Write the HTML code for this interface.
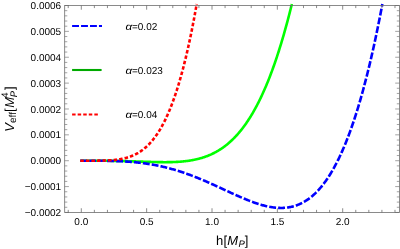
<!DOCTYPE html>
<html><head><meta charset="utf-8"><title>Veff plot</title>
<style>html,body{margin:0;padding:0;background:#fff;}svg{display:block;will-change:transform;}</style></head>
<body>
<svg width="400" height="249" viewBox="0 0 400 249">
<rect width="400" height="249" fill="#fff"/>
<path d="M80.30 160.71 L81.30 160.71 L81.86 160.71 L82.41 160.71 L82.97 160.71 L83.52 160.71 L84.08 160.71 L84.63 160.71 L85.19 160.71 L85.74 160.71 L86.30 160.71 L86.85 160.71 L87.41 160.71 L87.97 160.71 L88.52 160.71 L89.08 160.71 L89.63 160.71 L90.19 160.71 L90.74 160.71 L91.30 160.72 L91.85 160.72 L92.41 160.72 L92.96 160.72 L93.52 160.72 L94.08 160.72 L94.63 160.72 L95.19 160.72 L95.74 160.72 L96.30 160.72 L96.85 160.73 L97.41 160.73 L97.96 160.73 L98.52 160.73 L99.08 160.73 L99.63 160.74 L100.19 160.74 L100.74 160.74 L101.30 160.74 L101.85 160.75 L102.41 160.75 L102.96 160.75 L103.52 160.76 L104.07 160.76 L104.63 160.77 L105.19 160.77 L105.74 160.78 L106.30 160.78 L106.85 160.79 L107.41 160.79 L107.96 160.80 L108.52 160.80 L109.07 160.81 L109.63 160.81 L110.18 160.82 L110.74 160.83 L111.30 160.84 L111.85 160.84 L112.41 160.85 L112.96 160.86 L113.52 160.87 L114.07 160.88 L114.63 160.88 L115.18 160.89 L115.74 160.90 L116.29 160.91 L116.85 160.92 L117.41 160.93 L117.96 160.94 L118.52 160.95 L119.07 160.97 L119.63 160.98 L120.18 160.99 L120.74 161.00 L121.29 161.01 L121.85 161.03 L122.41 161.04 L122.96 161.05 L123.52 161.07 L124.07 161.08 L124.63 161.09 L125.18 161.11 L125.74 161.12 L126.29 161.14 L126.85 161.15 L127.40 161.17 L127.96 161.18 L128.52 161.20 L129.07 161.22 L129.63 161.23 L130.18 161.25 L130.74 161.26 L131.29 161.28 L131.85 161.30 L132.40 161.32 L132.96 161.33 L133.51 161.35 L134.07 161.37 L134.63 161.39 L135.18 161.41 L135.74 161.42 L136.29 161.44 L136.85 161.46 L137.40 161.48 L137.96 161.50 L138.51 161.52 L139.07 161.54 L139.62 161.55 L140.18 161.57 L140.74 161.59 L141.29 161.61 L141.85 161.63 L142.40 161.65 L142.96 161.67 L143.51 161.69 L144.07 161.71 L144.62 161.73 L145.18 161.74 L145.74 161.76 L146.29 161.78 L146.85 161.80 L147.40 161.82 L147.96 161.84 L148.51 161.85 L149.07 161.87 L149.62 161.89 L150.18 161.91 L150.73 161.92 L151.29 161.94 L151.85 161.96 L152.40 161.97 L152.96 161.99 L153.51 162.00 L154.07 162.02 L154.62 162.03 L155.18 162.04 L155.73 162.06 L156.29 162.07 L156.84 162.08 L157.40 162.09 L157.96 162.11 L158.51 162.12 L159.07 162.13 L159.62 162.13 L160.18 162.14 L160.73 162.15 L161.29 162.16 L161.84 162.16 L162.40 162.17 L162.95 162.17 L163.51 162.18 L164.07 162.18 L164.62 162.18 L165.18 162.18 L165.73 162.18 L166.29 162.18 L166.84 162.17 L167.40 162.17 L167.95 162.17 L168.51 162.16 L169.07 162.15 L169.62 162.14 L170.18 162.13 L170.73 162.12 L171.29 162.11 L171.84 162.09 L172.40 162.08 L172.95 162.06 L173.51 162.04 L174.06 162.02 L174.62 162.00 L175.18 161.98 L175.73 161.95 L176.29 161.92 L176.84 161.89 L177.40 161.86 L177.95 161.83 L178.51 161.79 L179.06 161.76 L179.62 161.72 L180.17 161.68 L180.73 161.63 L181.29 161.59 L181.84 161.54 L182.40 161.49 L182.95 161.44 L183.51 161.38 L184.06 161.33 L184.62 161.27 L185.17 161.21 L185.73 161.14 L186.28 161.07 L186.84 161.00 L187.40 160.93 L187.95 160.86 L188.51 160.78 L189.06 160.70 L189.62 160.61 L190.17 160.52 L190.73 160.43 L191.28 160.34 L191.84 160.24 L192.39 160.14 L192.95 160.04 L193.51 159.93 L194.06 159.82 L194.62 159.71 L195.17 159.59 L195.73 159.47 L196.28 159.34 L196.84 159.22 L197.39 159.08 L197.95 158.95 L198.51 158.81 L199.06 158.66 L199.62 158.51 L200.17 158.36 L200.73 158.20 L201.28 158.04 L201.84 157.88 L202.39 157.71 L202.95 157.53 L203.50 157.35 L204.06 157.17 L204.62 156.98 L205.17 156.79 L205.73 156.59 L206.28 156.39 L206.84 156.18 L207.39 155.96 L207.95 155.75 L208.50 155.52 L209.06 155.29 L209.61 155.06 L210.17 154.82 L210.73 154.57 L211.28 154.32 L211.84 154.06 L212.39 153.80 L212.95 153.53 L213.50 153.26 L214.06 152.98 L214.61 152.69 L215.17 152.40 L215.72 152.10 L216.28 151.79 L216.84 151.48 L217.39 151.16 L217.95 150.83 L218.50 150.50 L219.06 150.16 L219.61 149.82 L220.17 149.46 L220.72 149.10 L221.28 148.73 L221.84 148.36 L222.39 147.98 L222.95 147.59 L223.50 147.19 L224.06 146.79 L224.61 146.37 L225.17 145.95 L225.72 145.52 L226.28 145.09 L226.83 144.64 L227.39 144.19 L227.95 143.73 L228.50 143.26 L229.06 142.78 L229.61 142.29 L230.17 141.80 L230.72 141.30 L231.28 140.78 L231.83 140.26 L232.39 139.73 L232.94 139.19 L233.50 138.64 L234.06 138.08 L234.61 137.51 L235.17 136.93 L235.72 136.34 L236.28 135.74 L236.83 135.13 L237.39 134.51 L237.94 133.89 L238.50 133.25 L239.05 132.60 L239.61 131.94 L240.17 131.26 L240.72 130.58 L241.28 129.89 L241.83 129.19 L242.39 128.47 L242.94 127.74 L243.50 127.01 L244.05 126.26 L244.61 125.50 L245.17 124.73 L245.72 123.94 L246.28 123.14 L246.83 122.34 L247.39 121.52 L247.94 120.68 L248.50 119.84 L249.05 118.98 L249.61 118.11 L250.16 117.23 L250.72 116.33 L251.28 115.42 L251.83 114.50 L252.39 113.56 L252.94 112.61 L253.50 111.65 L254.05 110.67 L254.61 109.68 L255.16 108.68 L255.72 107.66 L256.27 106.62 L256.83 105.58 L257.39 104.51 L257.94 103.44 L258.50 102.35 L259.05 101.24 L259.61 100.12 L260.16 98.98 L260.72 97.83 L261.27 96.66 L261.83 95.48 L262.38 94.28 L262.94 93.06 L263.50 91.83 L264.05 90.59 L264.61 89.32 L265.16 88.04 L265.72 86.75 L266.27 85.43 L266.83 84.10 L267.38 82.75 L267.94 81.39 L268.50 80.01 L269.05 78.61 L269.61 77.19 L270.16 75.76 L270.72 74.30 L271.27 72.83 L271.83 71.34 L272.38 69.83 L272.94 68.31 L273.49 66.76 L274.05 65.20 L274.61 63.62 L275.16 62.01 L275.72 60.39 L276.27 58.75 L276.83 57.09 L277.38 55.41 L277.94 53.71 L278.49 51.99 L279.05 50.25 L279.60 48.48 L280.16 46.70 L280.72 44.90 L281.27 43.08 L281.83 41.23 L282.38 39.36 L282.94 37.47 L283.49 35.57 L284.05 33.63 L284.60 31.68 L285.16 29.70 L285.71 27.71 L286.27 25.69 L286.83 23.64 L287.38 21.58 L287.94 19.49 L288.49 17.37 L289.05 15.24 L289.60 13.08 L290.16 10.90 L290.71 8.69 L291.27 6.46 L291.83 4.20 L291.85 4.10" fill="none" stroke="#00ff00" stroke-width="2.60" stroke-linejoin="round"/>
<path d="M80.30 160.71 L81.30 160.71 L82.08 160.71 L82.87 160.71 L83.65 160.71 L84.44 160.71 L85.22 160.71 L86.01 160.71 L86.79 160.71 L87.57 160.71 L88.36 160.71 L89.14 160.71 L89.93 160.71 L90.71 160.72 L91.49 160.72 L92.28 160.72 L93.06 160.72 L93.85 160.72 L94.63 160.72 L95.42 160.73 L96.20 160.73 L96.98 160.73 L97.77 160.74 L98.55 160.74 L99.34 160.75 L100.12 160.75 L100.91 160.76 L101.69 160.76 L102.47 160.77 L103.26 160.78 L104.04 160.79 L104.83 160.80 L105.61 160.81 L106.39 160.82 L107.18 160.83 L107.96 160.85 L108.75 160.86 L109.53 160.88 L110.32 160.90 L111.10 160.91 L111.88 160.93 L112.67 160.95 L113.45 160.98 L114.24 161.00 L115.02 161.02 L115.80 161.05 L116.59 161.08 L117.37 161.11 L118.16 161.14 L118.94 161.17 L119.73 161.20 L120.51 161.24 L121.29 161.28 L122.08 161.32 L122.86 161.36 L123.65 161.40 L124.43 161.45 L125.22 161.49 L126.00 161.54 L126.78 161.59 L127.57 161.64 L128.35 161.70 L129.14 161.76 L129.92 161.82 L130.70 161.88 L131.49 161.94 L132.27 162.01 L133.06 162.08 L133.84 162.15 L134.63 162.22 L135.41 162.30 L136.19 162.38 L136.98 162.46 L137.76 162.54 L138.55 162.63 L139.33 162.71 L140.12 162.81 L140.90 162.90 L141.68 163.00 L142.47 163.10 L143.25 163.20 L144.04 163.30 L144.82 163.41 L145.60 163.52 L146.39 163.64 L147.17 163.75 L147.96 163.87 L148.74 163.99 L149.53 164.12 L150.31 164.25 L151.09 164.38 L151.88 164.51 L152.66 164.65 L153.45 164.79 L154.23 164.94 L155.01 165.08 L155.80 165.24 L156.58 165.39 L157.37 165.55 L158.15 165.71 L158.94 165.87 L159.72 166.03 L160.50 166.20 L161.29 166.38 L162.07 166.55 L162.86 166.73 L163.64 166.92 L164.43 167.10 L165.21 167.29 L165.99 167.48 L166.78 167.68 L167.56 167.88 L168.35 168.08 L169.13 168.29 L169.91 168.50 L170.70 168.71 L171.48 168.92 L172.27 169.14 L173.05 169.36 L173.84 169.59 L174.62 169.82 L175.40 170.05 L176.19 170.29 L176.97 170.52 L177.76 170.77 L178.54 171.01 L179.32 171.26 L180.11 171.51 L180.89 171.76 L181.68 172.02 L182.46 172.28 L183.25 172.55 L184.03 172.81 L184.81 173.08 L185.60 173.36 L186.38 173.63 L187.17 173.91 L187.95 174.19 L188.74 174.48 L189.52 174.77 L190.30 175.06 L191.09 175.35 L191.87 175.65 L192.66 175.95 L193.44 176.25 L194.22 176.55 L195.01 176.86 L195.79 177.17 L196.58 177.48 L197.36 177.80 L198.15 178.12 L198.93 178.43 L199.71 178.76 L200.50 179.08 L201.28 179.41 L202.07 179.74 L202.85 180.07 L203.64 180.40 L204.42 180.74 L205.20 181.07 L205.99 181.41 L206.77 181.75 L207.56 182.10 L208.34 182.44 L209.12 182.79 L209.91 183.14 L210.69 183.49 L211.48 183.84 L212.26 184.19 L213.05 184.54 L213.83 184.90 L214.61 185.25 L215.40 185.61 L216.18 185.97 L216.97 186.33 L217.75 186.69 L218.53 187.05 L219.32 187.41 L220.10 187.77 L220.89 188.14 L221.67 188.50 L222.46 188.86 L223.24 189.23 L224.02 189.59 L224.81 189.95 L225.59 190.32 L226.38 190.68 L227.16 191.05 L227.95 191.41 L228.73 191.77 L229.51 192.13 L230.30 192.49 L231.08 192.86 L231.87 193.21 L232.65 193.57 L233.43 193.93 L234.22 194.29 L235.00 194.64 L235.79 195.00 L236.57 195.35 L237.36 195.70 L238.14 196.05 L238.92 196.39 L239.71 196.74 L240.49 197.08 L241.28 197.42 L242.06 197.75 L242.85 198.09 L243.63 198.42 L244.41 198.75 L245.20 199.07 L245.98 199.40 L246.77 199.72 L247.55 200.03 L248.33 200.34 L249.12 200.65 L249.90 200.96 L250.69 201.26 L251.47 201.55 L252.26 201.84 L253.04 202.13 L253.82 202.41 L254.61 202.69 L255.39 202.96 L256.18 203.23 L256.96 203.49 L257.75 203.75 L258.53 204.00 L259.31 204.24 L260.10 204.48 L260.88 204.71 L261.67 204.94 L262.45 205.16 L263.23 205.37 L264.02 205.58 L264.80 205.78 L265.59 205.97 L266.37 206.15 L267.16 206.33 L267.94 206.49 L268.72 206.65 L269.51 206.80 L270.29 206.95 L271.08 207.08 L271.86 207.21 L272.64 207.32 L273.43 207.43 L274.21 207.53 L275.00 207.61 L275.78 207.69 L276.57 207.76 L277.35 207.82 L278.13 207.86 L278.92 207.90 L279.70 207.92 L280.49 207.94 L281.27 207.94 L282.06 207.93 L282.84 207.91 L283.62 207.87 L284.41 207.82 L285.19 207.77 L285.98 207.69 L286.76 207.61 L287.54 207.51 L288.33 207.40 L289.11 207.27 L289.90 207.13 L290.68 206.98 L291.47 206.81 L292.25 206.62 L293.03 206.42 L293.82 206.21 L294.60 205.98 L295.39 205.73 L296.17 205.47 L296.95 205.19 L297.74 204.89 L298.52 204.58 L299.31 204.25 L300.09 203.90 L300.88 203.54 L301.66 203.15 L302.44 202.75 L303.23 202.33 L304.01 201.89 L304.80 201.43 L305.58 200.95 L306.37 200.46 L307.15 199.94 L307.93 199.40 L308.72 198.84 L309.50 198.26 L310.29 197.66 L311.07 197.04 L311.85 196.39 L312.64 195.72 L313.42 195.03 L314.21 194.32 L314.99 193.58 L315.78 192.82 L316.56 192.04 L317.34 191.23 L318.13 190.40 L318.91 189.55 L319.70 188.66 L320.48 187.76 L321.27 186.82 L322.05 185.86 L322.83 184.88 L323.62 183.87 L324.40 182.83 L325.19 181.76 L325.97 180.67 L326.75 179.54 L327.54 178.39 L328.32 177.21 L329.11 176.00 L329.89 174.76 L330.68 173.50 L331.46 172.20 L332.24 170.87 L333.03 169.51 L333.81 168.11 L334.60 166.69 L335.38 165.23 L336.16 163.75 L336.95 162.22 L337.73 160.67 L338.52 159.08 L339.30 157.46 L340.09 155.80 L340.87 154.11 L341.65 152.38 L342.44 150.62 L343.22 148.82 L344.01 146.99 L344.79 145.12 L345.58 143.21 L346.36 141.26 L347.14 139.28 L347.93 137.26 L348.71 135.20 L349.50 133.10 L350.28 130.96 L351.06 128.78 L351.85 126.56 L352.63 124.29 L353.42 121.99 L354.20 119.65 L354.99 117.26 L355.77 114.83 L356.55 112.36 L357.34 109.84 L358.12 107.28 L358.91 104.68 L359.69 102.03 L360.48 99.34 L361.26 96.60 L362.04 93.81 L362.83 90.98 L363.61 88.10 L364.40 85.18 L365.18 82.20 L365.96 79.18 L366.75 76.11 L367.53 72.99 L368.32 69.81 L369.10 66.59 L369.89 63.32 L370.67 60.00 L371.45 56.62 L372.24 53.20 L373.02 49.72 L373.81 46.18 L374.59 42.60 L375.38 38.96 L376.16 35.26 L376.94 31.51 L377.73 27.71 L378.51 23.84 L379.30 19.93 L380.08 15.95 L380.86 11.92 L381.65 7.82 L382.35 4.10" fill="none" stroke="#0000ff" stroke-width="2.60" stroke-linejoin="round" stroke-dasharray="6.9 2.05"/>
<path d="M80.30 160.71 L81.30 160.71 L81.61 160.71 L81.92 160.71 L82.23 160.71 L82.54 160.71 L82.85 160.71 L83.16 160.71 L83.47 160.71 L83.78 160.71 L84.09 160.71 L84.40 160.71 L84.71 160.71 L85.02 160.71 L85.34 160.71 L85.65 160.71 L85.96 160.71 L86.27 160.71 L86.58 160.71 L86.89 160.71 L87.20 160.71 L87.51 160.71 L87.82 160.71 L88.13 160.71 L88.44 160.71 L88.75 160.71 L89.06 160.71 L89.37 160.71 L89.68 160.71 L89.99 160.71 L90.30 160.71 L90.61 160.71 L90.92 160.71 L91.23 160.71 L91.54 160.71 L91.85 160.71 L92.16 160.71 L92.47 160.71 L92.79 160.70 L93.10 160.70 L93.41 160.70 L93.72 160.70 L94.03 160.70 L94.34 160.70 L94.65 160.70 L94.96 160.70 L95.27 160.69 L95.58 160.69 L95.89 160.69 L96.20 160.69 L96.51 160.69 L96.82 160.68 L97.13 160.68 L97.44 160.68 L97.75 160.67 L98.06 160.67 L98.37 160.67 L98.68 160.66 L98.99 160.66 L99.30 160.66 L99.61 160.65 L99.92 160.65 L100.24 160.64 L100.55 160.64 L100.86 160.63 L101.17 160.63 L101.48 160.62 L101.79 160.61 L102.10 160.61 L102.41 160.60 L102.72 160.59 L103.03 160.58 L103.34 160.58 L103.65 160.57 L103.96 160.56 L104.27 160.55 L104.58 160.54 L104.89 160.53 L105.20 160.52 L105.51 160.51 L105.82 160.50 L106.13 160.49 L106.44 160.47 L106.75 160.46 L107.06 160.45 L107.37 160.43 L107.69 160.42 L108.00 160.40 L108.31 160.39 L108.62 160.37 L108.93 160.35 L109.24 160.34 L109.55 160.32 L109.86 160.30 L110.17 160.28 L110.48 160.26 L110.79 160.24 L111.10 160.21 L111.41 160.19 L111.72 160.17 L112.03 160.14 L112.34 160.12 L112.65 160.09 L112.96 160.07 L113.27 160.04 L113.58 160.01 L113.89 159.98 L114.20 159.95 L114.51 159.92 L114.82 159.89 L115.13 159.85 L115.45 159.82 L115.76 159.78 L116.07 159.75 L116.38 159.71 L116.69 159.67 L117.00 159.63 L117.31 159.59 L117.62 159.55 L117.93 159.51 L118.24 159.46 L118.55 159.42 L118.86 159.37 L119.17 159.32 L119.48 159.27 L119.79 159.22 L120.10 159.17 L120.41 159.12 L120.72 159.06 L121.03 159.01 L121.34 158.95 L121.65 158.89 L121.96 158.83 L122.27 158.77 L122.58 158.70 L122.90 158.64 L123.21 158.57 L123.52 158.50 L123.83 158.43 L124.14 158.36 L124.45 158.29 L124.76 158.21 L125.07 158.13 L125.38 158.05 L125.69 157.97 L126.00 157.89 L126.31 157.81 L126.62 157.72 L126.93 157.63 L127.24 157.54 L127.55 157.45 L127.86 157.35 L128.17 157.26 L128.48 157.16 L128.79 157.06 L129.10 156.96 L129.41 156.85 L129.72 156.74 L130.03 156.63 L130.35 156.52 L130.66 156.41 L130.97 156.29 L131.28 156.17 L131.59 156.05 L131.90 155.93 L132.21 155.80 L132.52 155.67 L132.83 155.54 L133.14 155.41 L133.45 155.27 L133.76 155.13 L134.07 154.99 L134.38 154.85 L134.69 154.70 L135.00 154.55 L135.31 154.40 L135.62 154.24 L135.93 154.08 L136.24 153.92 L136.55 153.76 L136.86 153.59 L137.17 153.42 L137.48 153.24 L137.80 153.07 L138.11 152.89 L138.42 152.70 L138.73 152.52 L139.04 152.33 L139.35 152.13 L139.66 151.94 L139.97 151.74 L140.28 151.53 L140.59 151.33 L140.90 151.12 L141.21 150.90 L141.52 150.69 L141.83 150.46 L142.14 150.24 L142.45 150.01 L142.76 149.78 L143.07 149.54 L143.38 149.30 L143.69 149.06 L144.00 148.81 L144.31 148.56 L144.62 148.30 L144.93 148.04 L145.24 147.78 L145.56 147.51 L145.87 147.24 L146.18 146.96 L146.49 146.68 L146.80 146.39 L147.11 146.10 L147.42 145.81 L147.73 145.51 L148.04 145.21 L148.35 144.90 L148.66 144.59 L148.97 144.27 L149.28 143.95 L149.59 143.62 L149.90 143.29 L150.21 142.95 L150.52 142.61 L150.83 142.26 L151.14 141.91 L151.45 141.56 L151.76 141.20 L152.07 140.83 L152.38 140.46 L152.69 140.08 L153.01 139.70 L153.32 139.31 L153.63 138.92 L153.94 138.52 L154.25 138.11 L154.56 137.70 L154.87 137.29 L155.18 136.87 L155.49 136.44 L155.80 136.01 L156.11 135.57 L156.42 135.12 L156.73 134.67 L157.04 134.22 L157.35 133.75 L157.66 133.29 L157.97 132.81 L158.28 132.33 L158.59 131.84 L158.90 131.35 L159.21 130.85 L159.52 130.34 L159.83 129.83 L160.14 129.31 L160.46 128.78 L160.77 128.25 L161.08 127.71 L161.39 127.16 L161.70 126.61 L162.01 126.05 L162.32 125.48 L162.63 124.91 L162.94 124.33 L163.25 123.74 L163.56 123.14 L163.87 122.54 L164.18 121.93 L164.49 121.31 L164.80 120.69 L165.11 120.06 L165.42 119.42 L165.73 118.77 L166.04 118.11 L166.35 117.45 L166.66 116.78 L166.97 116.10 L167.28 115.41 L167.59 114.72 L167.91 114.01 L168.22 113.30 L168.53 112.58 L168.84 111.86 L169.15 111.12 L169.46 110.38 L169.77 109.62 L170.08 108.86 L170.39 108.09 L170.70 107.31 L171.01 106.53 L171.32 105.73 L171.63 104.93 L171.94 104.11 L172.25 103.29 L172.56 102.46 L172.87 101.62 L173.18 100.77 L173.49 99.91 L173.80 99.04 L174.11 98.16 L174.42 97.27 L174.73 96.37 L175.04 95.47 L175.35 94.55 L175.67 93.62 L175.98 92.69 L176.29 91.74 L176.60 90.78 L176.91 89.82 L177.22 88.84 L177.53 87.86 L177.84 86.86 L178.15 85.85 L178.46 84.83 L178.77 83.81 L179.08 82.77 L179.39 81.72 L179.70 80.66 L180.01 79.59 L180.32 78.51 L180.63 77.41 L180.94 76.31 L181.25 75.20 L181.56 74.07 L181.87 72.93 L182.18 71.79 L182.49 70.63 L182.80 69.46 L183.12 68.27 L183.43 67.08 L183.74 65.87 L184.05 64.66 L184.36 63.43 L184.67 62.19 L184.98 60.93 L185.29 59.67 L185.60 58.39 L185.91 57.10 L186.22 55.80 L186.53 54.48 L186.84 53.16 L187.15 51.82 L187.46 50.46 L187.77 49.10 L188.08 47.72 L188.39 46.33 L188.70 44.93 L189.01 43.51 L189.32 42.08 L189.63 40.64 L189.94 39.18 L190.25 37.71 L190.57 36.23 L190.88 34.73 L191.19 33.22 L191.50 31.70 L191.81 30.16 L192.12 28.61 L192.43 27.04 L192.74 25.46 L193.05 23.87 L193.36 22.26 L193.67 20.64 L193.98 19.00 L194.29 17.35 L194.60 15.68 L194.91 14.00 L195.22 12.30 L195.53 10.59 L195.84 8.87 L196.15 7.13 L196.46 5.37 L196.69 4.10" fill="none" stroke="#ff0000" stroke-width="2.60" stroke-linejoin="round" stroke-dasharray="3.5 2.06"/>
<rect x="64.70" y="5.50" width="334.70" height="206.95" fill="none" stroke="#6e6e6e" stroke-width="0.8"/>
<path d="M68.23 212.45 v-2.60 M68.23 5.50 v2.60 M81.30 212.45 v-4.20 M81.30 5.50 v4.20 M94.37 212.45 v-2.60 M94.37 5.50 v2.60 M107.44 212.45 v-2.60 M107.44 5.50 v2.60 M120.51 212.45 v-2.60 M120.51 5.50 v2.60 M133.58 212.45 v-2.60 M133.58 5.50 v2.60 M146.65 212.45 v-4.20 M146.65 5.50 v4.20 M159.72 212.45 v-2.60 M159.72 5.50 v2.60 M172.79 212.45 v-2.60 M172.79 5.50 v2.60 M185.86 212.45 v-2.60 M185.86 5.50 v2.60 M198.93 212.45 v-2.60 M198.93 5.50 v2.60 M212.00 212.45 v-4.20 M212.00 5.50 v4.20 M225.07 212.45 v-2.60 M225.07 5.50 v2.60 M238.14 212.45 v-2.60 M238.14 5.50 v2.60 M251.21 212.45 v-2.60 M251.21 5.50 v2.60 M264.28 212.45 v-2.60 M264.28 5.50 v2.60 M277.35 212.45 v-4.20 M277.35 5.50 v4.20 M290.42 212.45 v-2.60 M290.42 5.50 v2.60 M303.49 212.45 v-2.60 M303.49 5.50 v2.60 M316.56 212.45 v-2.60 M316.56 5.50 v2.60 M329.63 212.45 v-2.60 M329.63 5.50 v2.60 M342.70 212.45 v-4.20 M342.70 5.50 v4.20 M355.77 212.45 v-2.60 M355.77 5.50 v2.60 M368.84 212.45 v-2.60 M368.84 5.50 v2.60 M381.91 212.45 v-2.60 M381.91 5.50 v2.60 M394.98 212.45 v-2.60 M394.98 5.50 v2.60" fill="none" stroke="#666" stroke-width="0.75"/>
<path d="M64.70 212.45 h4.20 M399.40 212.45 h-4.20 M64.70 207.28 h2.60 M399.40 207.28 h-2.60 M64.70 202.10 h2.60 M399.40 202.10 h-2.60 M64.70 196.93 h2.60 M399.40 196.93 h-2.60 M64.70 191.75 h2.60 M399.40 191.75 h-2.60 M64.70 186.58 h4.20 M399.40 186.58 h-4.20 M64.70 181.41 h2.60 M399.40 181.41 h-2.60 M64.70 176.23 h2.60 M399.40 176.23 h-2.60 M64.70 171.06 h2.60 M399.40 171.06 h-2.60 M64.70 165.89 h2.60 M399.40 165.89 h-2.60 M64.70 160.71 h4.20 M399.40 160.71 h-4.20 M64.70 155.54 h2.60 M399.40 155.54 h-2.60 M64.70 150.36 h2.60 M399.40 150.36 h-2.60 M64.70 145.19 h2.60 M399.40 145.19 h-2.60 M64.70 140.02 h2.60 M399.40 140.02 h-2.60 M64.70 134.84 h4.20 M399.40 134.84 h-4.20 M64.70 129.67 h2.60 M399.40 129.67 h-2.60 M64.70 124.50 h2.60 M399.40 124.50 h-2.60 M64.70 119.32 h2.60 M399.40 119.32 h-2.60 M64.70 114.15 h2.60 M399.40 114.15 h-2.60 M64.70 108.97 h4.20 M399.40 108.97 h-4.20 M64.70 103.80 h2.60 M399.40 103.80 h-2.60 M64.70 98.63 h2.60 M399.40 98.63 h-2.60 M64.70 93.45 h2.60 M399.40 93.45 h-2.60 M64.70 88.28 h2.60 M399.40 88.28 h-2.60 M64.70 83.11 h4.20 M399.40 83.11 h-4.20 M64.70 77.93 h2.60 M399.40 77.93 h-2.60 M64.70 72.76 h2.60 M399.40 72.76 h-2.60 M64.70 67.58 h2.60 M399.40 67.58 h-2.60 M64.70 62.41 h2.60 M399.40 62.41 h-2.60 M64.70 57.24 h4.20 M399.40 57.24 h-4.20 M64.70 52.06 h2.60 M399.40 52.06 h-2.60 M64.70 46.89 h2.60 M399.40 46.89 h-2.60 M64.70 41.72 h2.60 M399.40 41.72 h-2.60 M64.70 36.54 h2.60 M399.40 36.54 h-2.60 M64.70 31.37 h4.20 M399.40 31.37 h-4.20 M64.70 26.19 h2.60 M399.40 26.19 h-2.60 M64.70 21.02 h2.60 M399.40 21.02 h-2.60 M64.70 15.85 h2.60 M399.40 15.85 h-2.60 M64.70 10.67 h2.60 M399.40 10.67 h-2.60 M64.70 5.50 h4.20 M399.40 5.50 h-4.20" fill="none" stroke="#666" stroke-width="0.6"/>
<g font-family="Liberation Sans, sans-serif" font-size="10" fill="#000" text-rendering="geometricPrecision">
<text x="81.30" y="225.2" text-anchor="middle">0.0</text>
<text x="146.65" y="225.2" text-anchor="middle">0.5</text>
<text x="212.00" y="225.2" text-anchor="middle">1.0</text>
<text x="277.35" y="225.2" text-anchor="middle">1.5</text>
<text x="342.70" y="225.2" text-anchor="middle">2.0</text>
<text x="61.2" y="216.05" text-anchor="end">−0.0002</text>
<text x="61.2" y="190.18" text-anchor="end">−0.0001</text>
<text x="61.2" y="164.31" text-anchor="end">0.0000</text>
<text x="61.2" y="138.44" text-anchor="end">0.0001</text>
<text x="61.2" y="112.57" text-anchor="end">0.0002</text>
<text x="61.2" y="86.71" text-anchor="end">0.0003</text>
<text x="61.2" y="60.84" text-anchor="end">0.0004</text>
<text x="61.2" y="34.97" text-anchor="end">0.0005</text>
<text x="61.2" y="9.10" text-anchor="end">0.0006</text>
<text transform="translate(125.5,29.60) scale(1.17,1)" font-style="italic">α</text>
<text y="29.60"><tspan x="132.0">=</tspan><tspan x="137.8">0.02</tspan></text>
<text transform="translate(125.5,73.60) scale(1.17,1)" font-style="italic">α</text>
<text y="73.60"><tspan x="132.0">=</tspan><tspan x="137.8">0.023</tspan></text>
<text transform="translate(125.5,118.10) scale(1.17,1)" font-style="italic">α</text>
<text y="118.10"><tspan x="132.0">=</tspan><tspan x="137.8">0.04</tspan></text>
</g>
<path d="M72.1 26 H102" stroke="#0000ff" stroke-width="2.1" stroke-dasharray="6.9 2.05" fill="none"/>
<path d="M72.1 70 H101.6" stroke="#00aa00" stroke-width="2.1" fill="none"/>
<path d="M72.1 114.5 H99.5" stroke="#ff0000" stroke-width="2.1" stroke-dasharray="3.5 2.06" fill="none"/>
<g font-family="Liberation Sans, sans-serif" fill="#000" text-rendering="geometricPrecision">
<text x="215.9" y="245.4" font-size="13">h<tspan dx="0.3">[</tspan><tspan font-style="italic" dx="0.2">M</tspan><tspan font-style="italic" font-size="9.5" dy="1.7" dx="0.3">P</tspan><tspan dy="-1.7" dx="0.1">]</tspan></text>
<g transform="translate(14.4,131.7) rotate(-90)"><text x="0" y="0" font-size="13"><tspan font-style="italic">V</tspan><tspan font-size="10" dy="1.9">eff</tspan><tspan dy="-1.9">[</tspan><tspan font-style="italic" dx="0.6">M</tspan><tspan font-style="italic" font-size="9.5" dy="2.4" dx="-0.2">P</tspan><tspan font-size="9.5" dy="-9.0" dx="-6.9">4</tspan><tspan dy="6.6" dx="2.4">]</tspan></text></g>
</g>
</svg>
</body></html>
